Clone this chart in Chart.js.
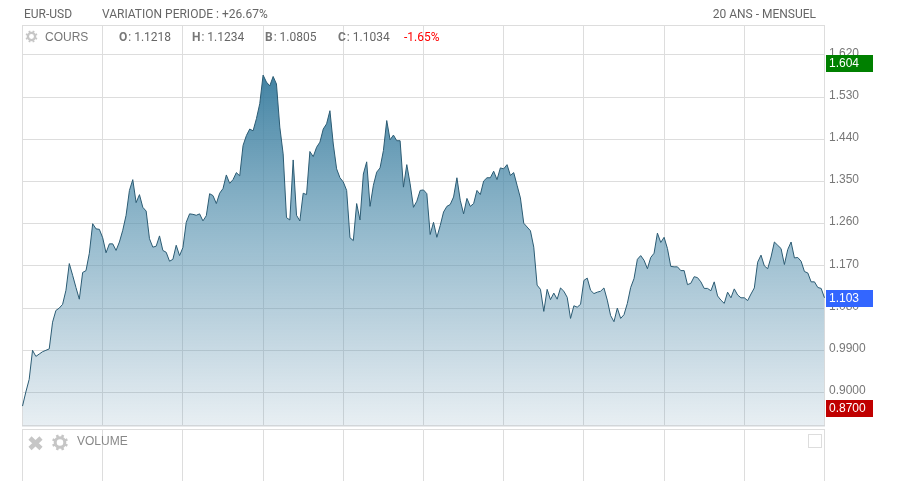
<!DOCTYPE html>
<html>
<head>
<meta charset="utf-8">
<script src="https://cdn.jsdelivr.net/npm/chart.js@4"></script>
<style>
html,body{margin:0;padding:0;background:#fff;overflow:hidden}
#wrap{position:relative;width:909px;height:481px}
#wrap canvas{position:absolute;left:0;top:0}
.t{position:absolute;font:12px Roboto,sans-serif;color:#666;white-space:nowrap;line-height:14px}
.t b{font-weight:700;color:#777;margin-right:1px}
.v{font-family:"Liberation Sans",Arial,sans-serif}
#box{position:absolute;left:808px;top:434px;width:12px;height:12px;border:1px solid #ddd}
</style>
</head>
<body>
<div id="wrap">
<canvas id="chart" width="909" height="481"></canvas>
<div class="t" style="left:24px;top:7px">EUR-USD</div>
<div class="t" style="left:102px;top:7px">VARIATION PERIODE : +26.67%</div>
<div class="t" style="right:93px;top:7px">20 ANS - MENSUEL</div>
<div class="t v" style="left:45px;top:30px;color:#777">COURS</div>
<div class="t" style="left:119px;top:30px"><b>O</b>: 1.1218</div>
<div class="t" style="left:192px;top:30px"><b>H</b>: 1.1234</div>
<div class="t" style="left:265px;top:30px"><b>B</b>: 1.0805</div>
<div class="t" style="left:338px;top:30px"><b>C</b>: 1.1034</div>
<div class="t" style="left:404px;top:30px;color:#f00">-1.65%</div>
<div class="t v" style="left:77px;top:434px;color:#888">VOLUME</div>
<div id="box"></div>
</div>
<script>
// monthly closes
const closes = [
  0.871,0.901,0.928,0.990,0.977,0.982,0.987,0.990,0.993,1.050,
  1.075,1.080,1.088,1.118,1.175,1.150,1.124,1.099,1.156,1.160,
  1.197,1.260,1.249,1.248,1.230,1.198,1.217,1.217,1.203,1.221,
  1.246,1.278,1.331,1.354,1.305,1.322,1.295,1.287,1.228,1.210,
  1.212,1.234,1.203,1.199,1.180,1.184,1.214,1.192,1.209,1.263,
  1.281,1.280,1.278,1.281,1.266,1.277,1.324,1.320,1.303,1.325,
  1.335,1.364,1.346,1.354,1.369,1.362,1.427,1.448,1.462,1.458,
  1.484,1.516,1.577,1.562,1.554,1.574,1.558,1.466,1.409,1.273,
  1.268,1.396,1.278,1.266,1.325,1.322,1.414,1.403,1.423,1.434,
  1.462,1.473,1.501,1.430,1.377,1.358,1.349,1.331,1.230,1.224,
  1.303,1.268,1.366,1.392,1.297,1.342,1.370,1.379,1.416,1.480,
  1.439,1.449,1.437,1.437,1.338,1.386,1.345,1.295,1.308,1.331,
  1.332,1.324,1.237,1.263,1.231,1.256,1.285,1.297,1.301,1.317,
  1.358,1.310,1.281,1.314,1.297,1.303,1.331,1.322,1.351,1.358,
  1.358,1.372,1.354,1.379,1.377,1.386,1.363,1.369,1.342,1.315,
  1.261,1.253,1.245,1.210,1.129,1.120,1.073,1.120,1.098,1.112,
  1.099,1.123,1.116,1.103,1.058,1.085,1.082,1.088,1.139,1.144,
  1.118,1.111,1.114,1.116,1.123,1.097,1.064,1.051,1.080,1.058,
  1.066,1.090,1.124,1.143,1.184,1.192,1.182,1.164,1.188,1.197,
  1.240,1.220,1.231,1.207,1.169,1.168,1.168,1.160,1.160,1.130,
  1.133,1.147,1.145,1.136,1.122,1.122,1.117,1.136,1.106,1.097,
  1.090,1.114,1.102,1.121,1.108,1.102,1.102,1.096,1.110,1.123,
  1.178,1.193,1.170,1.164,1.189,1.221,1.214,1.207,1.173,1.205,
  1.221,1.187,1.188,1.180,1.158,1.155,1.136,1.136,1.124,1.122,
  1.102
];
const months = closes.map((c, i) => i);
const yTicks = [1.62,1.53,1.44,1.35,1.26,1.17,1.08,0.99,0.90];
const yTickLabels = ['1.620','1.530','1.440','1.350','1.260','1.170','1.080','0.9900','0.9000'];
const badgeValues = [1.604,1.103,0.87];
const badgeLabels = ['1.604','1.103','0.8700'];
const badgeColors = ['#008000','#3366ff','#c00000'];

function drawGear(ctx, cx, cy, r) {
  ctx.strokeStyle = '#c6c6c6';
  ctx.lineWidth = r * 0.38;
  ctx.beginPath();
  ctx.arc(cx, cy, r * 0.6, 0, Math.PI * 2);
  ctx.stroke();
  ctx.lineWidth = r * 0.32;
  ctx.beginPath();
  for (let i = 0; i < 8; i++) {
    const a = i * Math.PI / 4 + Math.PI / 8;
    ctx.moveTo(cx + Math.cos(a) * r * 0.7, cy + Math.sin(a) * r * 0.7);
    ctx.lineTo(cx + Math.cos(a) * r, cy + Math.sin(a) * r);
  }
  ctx.stroke();
}

const panelPlugin = {
  id: 'panel',
  afterDraw(chart) {
    const { ctx, scales: { x, y } } = chart;
    ctx.save();
    ctx.lineWidth = 1;
    // top and bottom edges of the main panel
    ctx.strokeStyle = '#ddd';
    ctx.beginPath();
    ctx.moveTo(22, 25.5); ctx.lineTo(825, 25.5);
    ctx.stroke();
    ctx.fillStyle = '#d2d6d9';
    ctx.fillRect(22, 425, 803, 1.5);
    // volume panel, empty
    ctx.strokeStyle = '#ddd';
    ctx.beginPath();
    ctx.moveTo(22, 429.5); ctx.lineTo(825, 429.5);
    x.ticks.forEach(t => {
      const px = Math.round(x.getPixelForValue(t.value) - 0.5) + 0.5;
      ctx.moveTo(px, 430); ctx.lineTo(px, 481);
    });
    ctx.stroke();
    // panel icons
    drawGear(ctx, 31.5, 36.5, 6);
    drawGear(ctx, 60, 442.5, 8);
    ctx.strokeStyle = '#c6c6c6';
    ctx.lineWidth = 4.5;
    ctx.beginPath();
    ctx.moveTo(30, 438); ctx.lineTo(41, 448.5);
    ctx.moveTo(41, 438); ctx.lineTo(30, 448.5);
    ctx.stroke();
    // value badges on the right
    ctx.font = '12px "Liberation Sans"';
    ctx.textBaseline = 'middle';
    badgeValues.forEach((v, i) => {
      const py = Math.round(y.getPixelForValue(v)) + 1;
      ctx.fillStyle = badgeColors[i];
      ctx.fillRect(826, py - 8, 47, 17);
      ctx.fillStyle = '#fff';
      ctx.fillText(badgeLabels[i], 829, py + 1);
    });
    ctx.restore();
  }
};

new Chart(document.getElementById('chart'), {
  type: 'line',
  plugins: [panelPlugin],
  data: {
    labels: months,
    datasets: [{
      data: closes,
      borderColor: '#2b5b73',
      borderWidth: 1,
      pointRadius: 0,
      tension: 0,
      fill: 'start',
      backgroundColor(c) {
        const g = c.chart.ctx.createLinearGradient(0, 74, 0, 425);
        g.addColorStop(0, 'rgba(50,120,155,0.92)');
        g.addColorStop(0.5, 'rgba(85,145,175,0.58)');
        g.addColorStop(1, 'rgba(90,140,170,0.14)');
        return g;
      }
    }]
  },
  options: {
    responsive: false,
    animation: false,
    layout: { padding: { left: 22.5, top: 25, bottom: 56, right: 0 } },
    plugins: { legend: { display: false }, tooltip: { enabled: false } },
    scales: {
      x: {
        grid: { color: '#ddd', drawTicks: false },
        border: { display: false },
        ticks: { display: false, autoSkip: false },
        afterBuildTicks(axis) {
          axis.ticks = axis.ticks.filter(t => t.value % 24 === 0);
        }
      },
      y: {
        position: 'right',
        min: 0.8307,
        max: 1.6838,
        afterFit(axis) { axis.width = 84.5; },
        afterBuildTicks(axis) {
          axis.ticks = yTicks.map(v => ({ value: v }));
        },
        grid: { color: '#ddd', drawTicks: false },
        border: { display: false },
        ticks: {
          autoSkip: false,
          padding: 4.5,
          labelOffset: -1.6,
          color: '#777',
          font: { family: '"Liberation Sans"', size: 12 },
          callback(v, i) { return yTickLabels[i]; }
        }
      }
    }
  }
});
</script>
</body>
</html>
